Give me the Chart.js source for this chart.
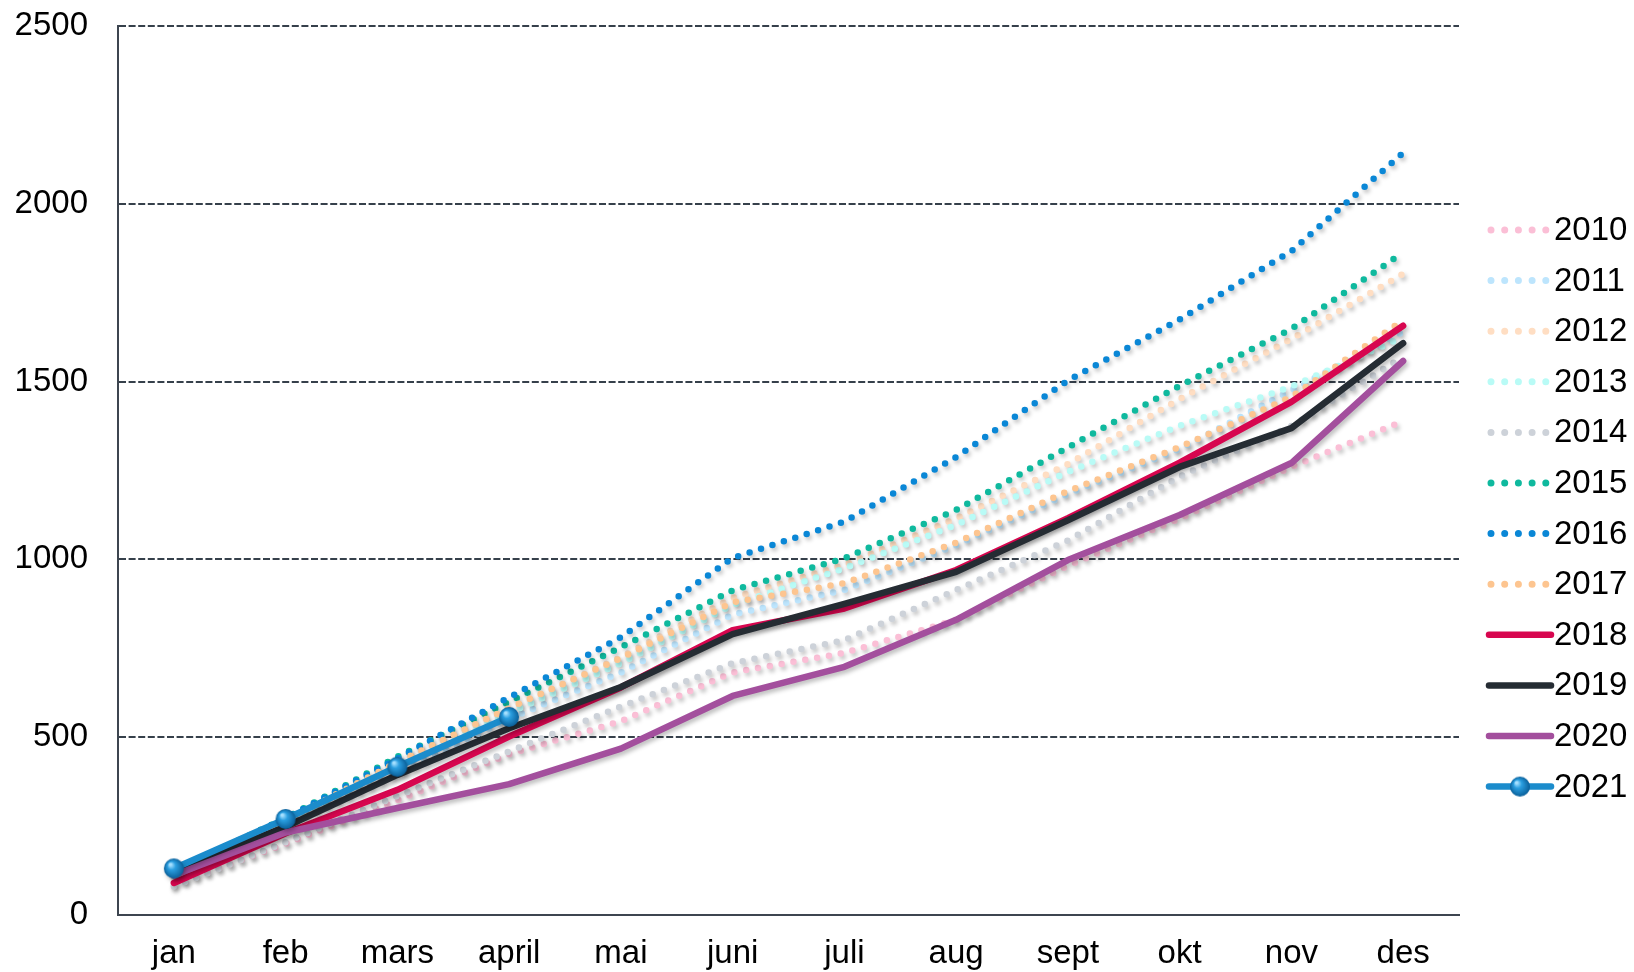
<!DOCTYPE html>
<html>
<head>
<meta charset="utf-8">
<script src="https://cdn.jsdelivr.net/npm/chart.js@4.4.1/dist/chart.umd.min.js"></script>
<style>
  html, body { margin: 0; padding: 0; background: #fff; }
  #wrap { width: 1634px; height: 972px; }
</style>
</head>
<body>
<div id="wrap"><canvas id="myChart" width="1634" height="972"></canvas></div>
<script>
const months = ['jan', 'feb', 'mars', 'april', 'mai', 'juni', 'juli', 'aug', 'sept', 'okt', 'nov', 'des'];
const years = ['2010', '2011', '2012', '2013', '2014', '2015', '2016', '2017', '2018', '2019', '2020', '2021'];

const v2010 = [85, 200, 322, 452, 545, 682, 737, 830, 982, 1115, 1260, 1389];
const v2011 = [110, 255, 398, 552, 682, 845, 914, 1040, 1184, 1310, 1476, 1640];
const v2012 = [120, 268, 428, 578, 725, 892, 985, 1115, 1268, 1451, 1620, 1803];
const v2013 = [115, 262, 418, 568, 708, 872, 975, 1097, 1246, 1376, 1486, 1625];
const v2014 = [80, 205, 335, 460, 586, 708, 773, 914, 1053, 1233, 1375, 1570];
const v2015 = [125, 272, 445, 600, 753, 913, 1003, 1139, 1315, 1488, 1648, 1863];
const v2016 = [120, 272, 440, 612, 781, 1004, 1106, 1288, 1503, 1675, 1867, 2143];
const v2017 = [120, 265, 430, 582, 722, 879, 933, 1047, 1192, 1316, 1457, 1673];
const v2018 = [90, 230, 352, 502, 640, 801, 862, 970, 1116, 1272, 1443, 1657];
const v2019 = [122, 248, 394, 525, 641, 790, 875, 965, 1110, 1260, 1369, 1608];
const v2020 = [112, 232, 301, 368, 468, 616, 698, 830, 998, 1125, 1271, 1558];
const v2021 = [131, 270, 417, 557];

const yMin = 0;
const yMax = 2500;
const yStep = 500;

const values = [v2010, v2011, v2012, v2013, v2014, v2015, v2016, v2017, v2018, v2019, v2020, v2021];

const colors = {
  '2010': '#fbbfd6',
  '2011': '#bde5fd',
  '2012': '#ffdec3',
  '2013': '#b9fbf6',
  '2014': '#cdd2d9',
  '2015': '#0fb99e',
  '2016': '#0a87d6',
  '2017': '#fdc590',
  '2018': '#d7064f',
  '2019': '#252c33',
  '2020': '#a34f9d',
  '2021': '#1b8ccc',
};
const dotted = ['2010', '2011', '2012', '2013', '2014', '2015', '2016', '2017'];
const FONT = "'Liberation Sans', Arial, sans-serif";
const FONT_SIZE = 33;

// little shaded ball used as the 2021 marker
function makeSphere(r) {
  const c = document.createElement('canvas');
  c.width = c.height = r * 2 + 2;
  const g = c.getContext('2d');
  const cx = r + 1;
  const grad = g.createRadialGradient(cx - r * 0.35, cx - r * 0.4, r * 0.1, cx, cx, r);
  grad.addColorStop(0, '#a6e0ff');
  grad.addColorStop(0.35, '#2a9ee0');
  grad.addColorStop(1, '#0a5f99');
  g.fillStyle = grad;
  g.beginPath();
  g.arc(cx, cx, r, 0, Math.PI * 2);
  g.fill();
  return c;
}
const sphere = makeSphere(10);

const datasets = years.map((yr, i) => {
  const isDot = dotted.includes(yr);
  return {
    label: yr,
    data: values[i],
    borderColor: colors[yr],
    backgroundColor: colors[yr],
    borderWidth: isDot ? 6.5 : 6.5,
    borderDash: isDot ? [0, 12] : [],
    borderCapStyle: 'round',
    borderJoinStyle: 'round',
    tension: 0,
    fill: false,
    pointRadius: yr === '2021' ? 10 : 0,
    pointHoverRadius: yr === '2021' ? 10 : 0,
    pointStyle: yr === '2021' ? sphere : 'circle',
    order: years.length - i,
  };
});

const shadowPlugin = {
  id: 'lineShadow',
  beforeDatasetDraw(chart) {
    const ctx = chart.ctx;
    ctx.save();
    ctx.shadowColor = 'rgba(0,0,0,0.25)';
    ctx.shadowBlur = 4;
    ctx.shadowOffsetX = 2;
    ctx.shadowOffsetY = 3;
  },
  afterDatasetDraw(chart) {
    chart.ctx.restore();
  },
};

const sideLegend = {
  id: 'sideLegend',
  afterDraw(chart) {
    const ctx = chart.ctx;
    const x0 = chart.chartArea.right + 30;
    chart.data.datasets.forEach((ds, i) => {
      const y = 230 + i * 50.6;
      ctx.save();
      ctx.strokeStyle = ds.borderColor;
      ctx.lineCap = 'round';
      ctx.beginPath();
      if (ds.borderDash.length) {
        ctx.lineWidth = 7;
        ctx.setLineDash([0, 13.7]);
        ctx.moveTo(x0 + 2, y);
        ctx.lineTo(x0 + 58, y);
      } else {
        ctx.lineWidth = 6.5;
        ctx.moveTo(x0, y);
        ctx.lineTo(x0 + 62, y);
      }
      ctx.stroke();
      if (ds.pointRadius > 0) {
        ctx.drawImage(sphere, x0 + 31 - sphere.width / 2, y - sphere.height / 2);
      }
      ctx.fillStyle = '#000';
      ctx.font = FONT_SIZE + 'px ' + FONT;
      ctx.textAlign = 'left';
      ctx.textBaseline = 'middle';
      ctx.fillText(ds.label, x0 + 65, y + 1);
      ctx.restore();
    });
  },
};

const ctx = document.getElementById('myChart').getContext('2d');
new Chart(ctx, {
  type: 'line',
  data: { labels: months, datasets: datasets },
  plugins: [shadowPlugin, sideLegend],
  options: {
    responsive: false,
    animation: false,
    layout: { padding: { left: 0, right: 175, top: 26, bottom: 0 } },
    plugins: {
      legend: { display: false },
      tooltip: { enabled: false },
    },
    scales: {
      x: {
        offset: true,
        grid: { display: false, drawTicks: false },
        border: { display: true, color: '#3d4550', width: 2 },
        ticks: { color: '#000', font: { family: FONT, size: FONT_SIZE }, padding: 19 },
        afterFit(scale) { scale.height = 57; },
      },
      y: {
        min: yMin,
        max: yMax,
        ticks: {
          stepSize: yStep,
          color: '#000',
          font: { family: FONT, size: FONT_SIZE },
          padding: 30,
          callback: (v) => String(v),
        },
        grid: { color: '#36404b', lineWidth: 2, drawTicks: false },
        border: { display: true, color: '#3d4550', width: 2, dash: [7, 2.6] },
        afterFit(scale) {
          scale.width = 118;
          scale.paddingTop = 0;
          scale.paddingBottom = 0;
        },
      },
    },
  },
});
</script>
</body>
</html>
